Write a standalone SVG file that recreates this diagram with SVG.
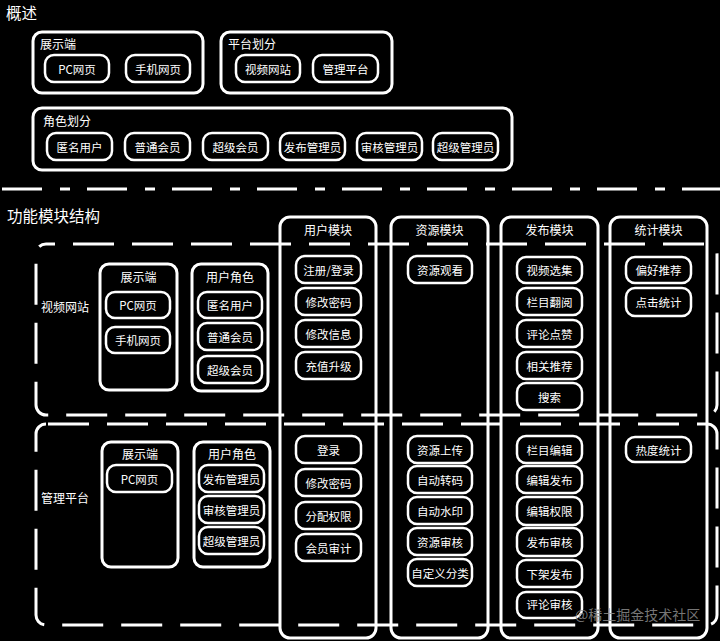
<svg xmlns="http://www.w3.org/2000/svg" width="720" height="641" viewBox="0 0 720 641">
<style>
text{font-family:"Noto Sans CJK SC","Liberation Sans",sans-serif;fill:#fff;dominant-baseline:central}
.h{font-size:15.5px}
.t{font-size:12px}
.i{font-size:11.5px;text-anchor:middle}
.c{text-anchor:middle}
.g{fill:none;stroke:#fff;stroke-width:3}
.it{fill:none;stroke:#fff;stroke-width:2.5}
.col{fill:none;stroke:#fff;stroke-width:3}
.dr{fill:none;stroke:#fff;stroke-width:3;stroke-dasharray:41 18}
.wm{font-size:14px;fill:#8c8c8c;fill-opacity:0.85}
</style>
<rect width="720" height="641" fill="#000"/>

<text class="h" x="6" y="12">概述</text>

<g id="overview-display">
<rect class="g" x="33" y="32" width="170" height="61" rx="9"/>
<text class="t" x="40" y="43">展示端</text>
<g id="ov-pc"><rect class="it" x="45" y="55" width="64" height="27" rx="9"/><text class="i" x="77" y="68.5">PC网页</text></g>
<g id="ov-mobile"><rect class="it" x="126" y="55" width="64" height="27" rx="9"/><text class="i" x="158" y="68.5">手机网页</text></g>
</g>

<g id="overview-platform">
<rect class="g" x="221" y="32" width="171" height="61" rx="9"/>
<text class="t" x="228" y="43">平台划分</text>
<g id="ov-video"><rect class="it" x="236" y="55" width="64" height="27" rx="9"/><text class="i" x="268" y="68.5">视频网站</text></g>
<g id="ov-admin"><rect class="it" x="313" y="55" width="65" height="27" rx="9"/><text class="i" x="345.5" y="68.5">管理平台</text></g>
</g>

<g id="overview-roles">
<rect class="g" x="33" y="108" width="479" height="62" rx="9"/>
<text class="t" x="43" y="120">角色划分</text>
<g id="ro-anon"><rect class="it" x="47" y="133" width="65" height="27" rx="9"/><text class="i" x="79.5" y="146.5">匿名用户</text></g>
<g id="ro-member"><rect class="it" x="125" y="133" width="65" height="27" rx="9"/><text class="i" x="157.5" y="146.5">普通会员</text></g>
<g id="ro-super"><rect class="it" x="203" y="133" width="65" height="27" rx="9"/><text class="i" x="235.5" y="146.5">超级会员</text></g>
<g id="ro-pub"><rect class="it" x="280" y="133" width="65" height="27" rx="9"/><text class="i" x="312.5" y="146.5">发布管理员</text></g>
<g id="ro-audit"><rect class="it" x="357" y="133" width="65" height="27" rx="9"/><text class="i" x="389.5" y="146.5">审核管理员</text></g>
<g id="ro-sadmin"><rect class="it" x="433" y="133" width="65" height="27" rx="9"/><text class="i" x="465.5" y="146.5">超级管理员</text></g>
</g>

<g id="connectors">
<line x1="2" y1="189" x2="720" y2="189" stroke="#fff" stroke-width="3" stroke-dasharray="40 18 10 17"/>
<rect class="dr" x="36" y="244" width="681" height="171" rx="10" stroke-dashoffset="32"/>
<rect class="dr" x="36" y="424" width="681" height="201" rx="10" stroke-dashoffset="57"/>
</g>

<text class="h" x="7" y="215">功能模块结构</text>

<text class="t" x="41" y="306">视频网站</text>
<text class="t" x="41" y="497">管理平台</text>

<g id="v-display">
<rect class="g" x="100" y="264" width="77" height="126" rx="9"/>
<text class="t c" x="138.5" y="276">展示端</text>
<g id="v-pc"><rect class="it" x="106" y="292" width="64" height="26" rx="9"/><text class="i" x="138" y="305">PC网页</text></g>
<g id="v-mobile"><rect class="it" x="106" y="327" width="64" height="26" rx="9"/><text class="i" x="138" y="340">手机网页</text></g>
</g>

<g id="v-roles">
<rect class="g" x="192" y="264" width="76" height="127" rx="9"/>
<text class="t c" x="230" y="276">用户角色</text>
<g id="v-anon"><rect class="it" x="198" y="292" width="64" height="26" rx="9"/><text class="i" x="230" y="305">匿名用户</text></g>
<g id="v-member"><rect class="it" x="198" y="323" width="64" height="27" rx="9"/><text class="i" x="230" y="336.5">普通会员</text></g>
<g id="v-super"><rect class="it" x="198" y="356" width="64" height="27" rx="9"/><text class="i" x="230" y="369.5">超级会员</text></g>
</g>

<g id="m-display">
<rect class="g" x="102" y="442" width="76" height="125" rx="9"/>
<text class="t c" x="140" y="453">展示端</text>
<g id="m-pc"><rect class="it" x="107" y="465" width="65" height="27" rx="9"/><text class="i" x="139.5" y="478.5">PC网页</text></g>
</g>

<g id="m-roles">
<rect class="g" x="194" y="442" width="76" height="125" rx="9"/>
<text class="t c" x="232" y="453">用户角色</text>
<g id="m-pub"><rect class="it" x="199" y="465" width="65" height="27" rx="9"/><text class="i" x="231.5" y="478.5">发布管理员</text></g>
<g id="m-audit"><rect class="it" x="199" y="496" width="65" height="27" rx="9"/><text class="i" x="231.5" y="509.5">审核管理员</text></g>
<g id="m-sadmin"><rect class="it" x="199" y="527" width="65" height="27" rx="9"/><text class="i" x="231.5" y="540.5">超级管理员</text></g>
</g>

<g id="col-user">
<rect class="col" x="280" y="217" width="96" height="421" rx="10"/>
<text class="t c" x="328" y="229">用户模块</text>
<g id="u-reg"><rect class="it" x="296" y="256" width="65" height="27" rx="9"/><text class="i" x="328.5" y="269.5">注册/登录</text></g>
<g id="u-pwd"><rect class="it" x="296" y="288" width="65" height="27" rx="9"/><text class="i" x="328.5" y="301.5">修改密码</text></g>
<g id="u-info"><rect class="it" x="296" y="320" width="65" height="27" rx="9"/><text class="i" x="328.5" y="333.5">修改信息</text></g>
<g id="u-up"><rect class="it" x="296" y="352" width="65" height="27" rx="9"/><text class="i" x="328.5" y="365.5">充值升级</text></g>
<g id="u-login"><rect class="it" x="296" y="436" width="65" height="27" rx="9"/><text class="i" x="328.5" y="449.5">登录</text></g>
<g id="u-pwd2"><rect class="it" x="296" y="469" width="65" height="27" rx="9"/><text class="i" x="328.5" y="482.5">修改密码</text></g>
<g id="u-perm"><rect class="it" x="296" y="502" width="65" height="27" rx="9"/><text class="i" x="328.5" y="515.5">分配权限</text></g>
<g id="u-auditm"><rect class="it" x="296" y="534" width="65" height="27" rx="9"/><text class="i" x="328.5" y="547.5">会员审计</text></g>
</g>

<g id="col-resource">
<rect class="col" x="391" y="217" width="97" height="421" rx="10"/>
<text class="t c" x="439.5" y="229">资源模块</text>
<g id="r-view"><rect class="it" x="408" y="256" width="64" height="27" rx="9"/><text class="i" x="440" y="269.5">资源观看</text></g>
<g id="r-up"><rect class="it" x="408" y="436" width="64" height="27" rx="9"/><text class="i" x="440" y="449.5">资源上传</text></g>
<g id="r-trans"><rect class="it" x="408" y="466" width="64" height="27" rx="9"/><text class="i" x="440" y="479.5">自动转码</text></g>
<g id="r-wm"><rect class="it" x="408" y="497" width="64" height="27" rx="9"/><text class="i" x="440" y="510.5">自动水印</text></g>
<g id="r-audit"><rect class="it" x="408" y="528" width="64" height="27" rx="9"/><text class="i" x="440" y="541.5">资源审核</text></g>
<g id="r-cat"><rect class="it" x="408" y="559" width="64" height="27" rx="9"/><text class="i" x="440" y="572.5">自定义分类</text></g>
</g>

<g id="col-publish">
<rect class="col" x="501" y="217" width="97" height="421" rx="10"/>
<text class="t c" x="549.5" y="229">发布模块</text>
<g id="p-sel"><rect class="it" x="517" y="257" width="65" height="26" rx="9"/><text class="i" x="549.5" y="270">视频选集</text></g>
<g id="p-browse"><rect class="it" x="517" y="288" width="65" height="27" rx="9"/><text class="i" x="549.5" y="301.5">栏目翻阅</text></g>
<g id="p-like"><rect class="it" x="517" y="320" width="65" height="27" rx="9"/><text class="i" x="549.5" y="333.5">评论点赞</text></g>
<g id="p-rec"><rect class="it" x="517" y="352" width="65" height="27" rx="9"/><text class="i" x="549.5" y="365.5">相关推荐</text></g>
<g id="p-search"><rect class="it" x="517" y="383" width="65" height="27" rx="9"/><text class="i" x="549.5" y="396.5">搜索</text></g>
<g id="p-coledit"><rect class="it" x="517" y="436" width="65" height="27" rx="9"/><text class="i" x="549.5" y="449.5">栏目编辑</text></g>
<g id="p-editpub"><rect class="it" x="517" y="466" width="65" height="27" rx="9"/><text class="i" x="549.5" y="479.5">编辑发布</text></g>
<g id="p-editperm"><rect class="it" x="517" y="497" width="65" height="28" rx="9"/><text class="i" x="549.5" y="511">编辑权限</text></g>
<g id="p-pubaudit"><rect class="it" x="517" y="528" width="65" height="28" rx="9"/><text class="i" x="549.5" y="542">发布审核</text></g>
<g id="p-unpub"><rect class="it" x="517" y="560" width="65" height="27" rx="9"/><text class="i" x="549.5" y="573.5">下架发布</text></g>
<g id="p-cmtaudit"><rect class="it" x="517" y="592" width="65" height="26" rx="9"/><text class="i" x="549.5" y="604">评论审核</text></g>
</g>

<g id="col-stats">
<rect class="col" x="610" y="217" width="97" height="421" rx="10"/>
<text class="t c" x="658.5" y="229">统计模块</text>
<g id="s-pref"><rect class="it" x="626" y="257" width="65" height="26" rx="9"/><text class="i" x="658.5" y="270">偏好推荐</text></g>
<g id="s-click"><rect class="it" x="626" y="288" width="65" height="28" rx="9"/><text class="i" x="658.5" y="302">点击统计</text></g>
<g id="s-hot"><rect class="it" x="626" y="437" width="65" height="25" rx="9"/><text class="i" x="658.5" y="449.5">热度统计</text></g>
</g>

<text class="wm" x="575" y="614">@稀土掘金技术社区</text>
</svg>
